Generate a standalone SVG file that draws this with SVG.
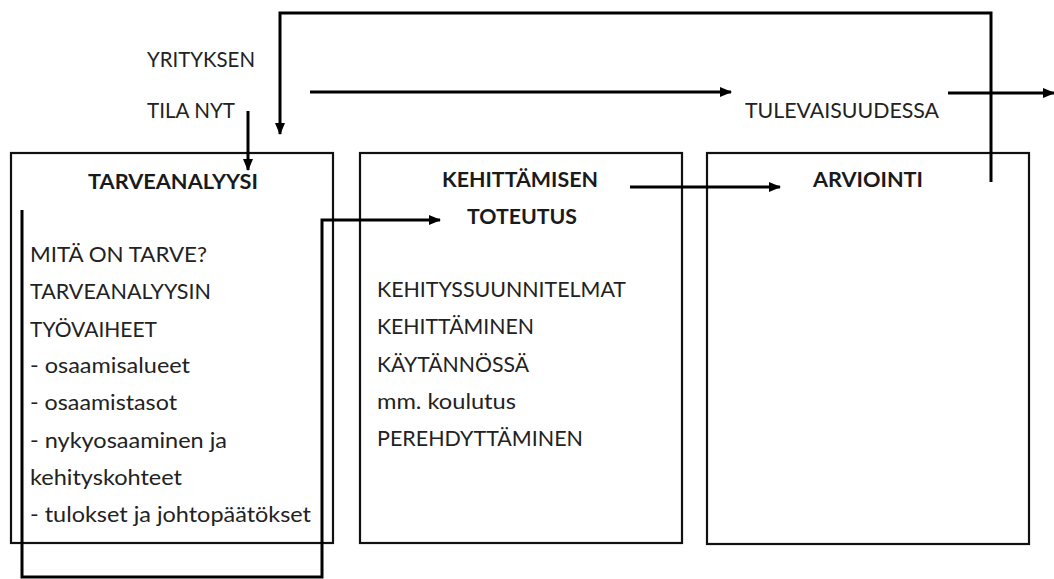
<svg xmlns="http://www.w3.org/2000/svg" width="1054" height="579" viewBox="0 0 1054 579">
  <style>
    .box { fill: #ffffff; stroke: #111; stroke-width: 2.2; }
    .txt { font-family: Lato, "Open Sans", sans-serif; font-size: 21px; fill: #222; }
    .title { font-family: Lato, "Open Sans", sans-serif; font-size: 20px; font-weight: bold; fill: #1a1a1a; }
    .line { fill: none; stroke: #000; stroke-width: 3; }
  </style>
  <defs>
    <marker id="arrow" markerWidth="12" markerHeight="10" refX="11" refY="5" orient="auto" markerUnits="userSpaceOnUse">
      <path d="M0,0 L12,5 L0,10 Z" fill="#000"/>
    </marker>
  </defs>
  <rect width="1054" height="579" fill="#ffffff"/>

  <!-- free labels -->
  <g id="labels">
    <text class="txt" x="147" y="67" textLength="108" lengthAdjust="spacingAndGlyphs">YRITYKSEN</text>
    <text class="txt" x="147" y="118" textLength="88" lengthAdjust="spacingAndGlyphs">TILA NYT</text>
    <text class="txt" x="745" y="118" textLength="194" lengthAdjust="spacingAndGlyphs">TULEVAISUUDESSA</text>
  </g>

  <!-- needs analysis -->
  <g id="tarveanalyysi">
    <rect class="box" x="11" y="153" width="322" height="390"/>
    <text class="title" x="88" y="189" textLength="170" lengthAdjust="spacingAndGlyphs">TARVEANALYYSI</text>
    <text class="txt" x="30" y="262" textLength="177" lengthAdjust="spacingAndGlyphs">MITÄ ON TARVE?</text>
    <text class="txt" x="30" y="299" textLength="181" lengthAdjust="spacingAndGlyphs">TARVEANALYYSIN</text>
    <text class="txt" x="30" y="337" textLength="127" lengthAdjust="spacingAndGlyphs">TYÖVAIHEET</text>
    <text class="txt" x="30" y="373" textLength="160" lengthAdjust="spacingAndGlyphs">- osaamisalueet</text>
    <text class="txt" x="30" y="410" textLength="147" lengthAdjust="spacingAndGlyphs">- osaamistasot</text>
    <text class="txt" x="30" y="448" textLength="197" lengthAdjust="spacingAndGlyphs">- nykyosaaminen ja</text>
    <text class="txt" x="30" y="485" textLength="152" lengthAdjust="spacingAndGlyphs">kehityskohteet</text>
    <text class="txt" x="30" y="522" textLength="281" lengthAdjust="spacingAndGlyphs">- tulokset ja johtopäätökset</text>
  </g>

  <!-- implementation -->
  <g id="toteutus">
    <rect class="box" x="360" y="153" width="322" height="390"/>
    <text class="title" x="442" y="187" textLength="156" lengthAdjust="spacingAndGlyphs">KEHITTÄMISEN</text>
    <text class="title" x="467" y="224" textLength="110" lengthAdjust="spacingAndGlyphs">TOTEUTUS</text>
    <text class="txt" x="377" y="297" textLength="249" lengthAdjust="spacingAndGlyphs">KEHITYSSUUNNITELMAT</text>
    <text class="txt" x="377" y="334" textLength="157" lengthAdjust="spacingAndGlyphs">KEHITTÄMINEN</text>
    <text class="txt" x="377" y="372" textLength="152" lengthAdjust="spacingAndGlyphs">KÄYTÄNNÖSSÄ</text>
    <text class="txt" x="377" y="409" textLength="139" lengthAdjust="spacingAndGlyphs">mm. koulutus</text>
    <text class="txt" x="377" y="446" textLength="206" lengthAdjust="spacingAndGlyphs">PEREHDYTTÄMINEN</text>
  </g>

  <!-- evaluation -->
  <g id="arviointi">
    <rect class="box" x="707" y="153" width="322" height="391"/>
    <text class="title" x="813" y="187" textLength="110" lengthAdjust="spacingAndGlyphs">ARVIOINTI</text>
  </g>

  <!-- connectors -->
  <g id="connectors">
    <line class="line" x1="310" y1="92" x2="731" y2="92" marker-end="url(#arrow)"/>
    <line class="line" x1="948" y1="93" x2="1054" y2="93" marker-end="url(#arrow)"/>
    <line class="line" x1="248" y1="111" x2="248" y2="170" marker-end="url(#arrow)"/>
    <polyline class="line" points="991,182 991,13 280,13 280,134" marker-end="url(#arrow)"/>
    <line class="line" x1="630" y1="187" x2="780" y2="187" marker-end="url(#arrow)"/>
    <polyline class="line" points="22,210 22,577 322,577 322,220 440,220" marker-end="url(#arrow)"/>
  </g>
</svg>
